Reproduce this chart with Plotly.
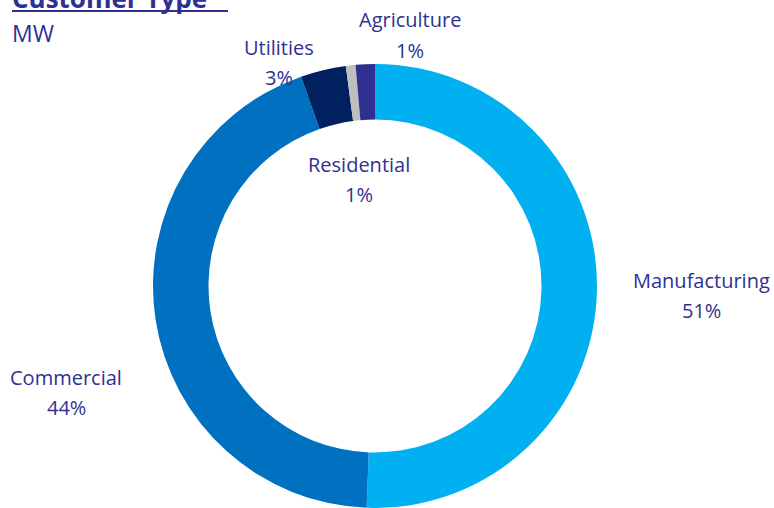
import plotly.graph_objects as go

categories = ["Manufacturing", "Commercial", "Utilities", "Residential", "Agriculture"]
values_mw = [50.6, 44.0, 3.3, 0.7, 1.4]
colors = ["#00B0F0", "#0070C0", "#002060", "#BFBFBF", "#2E3192"]

title_text = "Customer Type"
subtitle_text = "MW"

W, H = 774, 508
TXT = "#2E3192"
FONT = "Open Sans"
FS = 20

# label anchor positions (center x, baseline y in pixels) for name and percent
label_pos = {
    "Manufacturing": (701, 288, 318),
    "Commercial": (66, 385, 415),
    "Utilities": (279, 55, 85),
    "Residential": (359, 172, 202),
    "Agriculture": (410, 27, 58),
}

fig = go.Figure(go.Pie(
    labels=categories,
    values=values_mw,
    marker=dict(colors=colors, line=dict(width=0)),
    hole=0.75,
    sort=False,
    direction="clockwise",
    rotation=0,
    textinfo="none",
    hoverinfo="label+percent",
    domain=dict(x=[(375 - 222) / W, (375 + 222) / W], y=[0, 444 / H]),
    showlegend=False,
))

total = sum(values_mw)
ann = []
for cat, v in zip(categories, values_mw):
    cx, b1, b2 = label_pos[cat]
    pct = f"{round(v / total * 100):.0f}%"
    for txt, b in ((cat, b1), (pct, b2)):
        ann.append(dict(
            x=cx / W, y=1 - (b - 0.36 * FS) / H, xref="paper", yref="paper",
            xanchor="center", yanchor="middle", showarrow=False,
            text=txt, font=dict(family=FONT, size=FS, color=TXT),
        ))

ann.append(dict(x=10 / W, y=1 - (7 - 0.36 * 26) / H, xref="paper", yref="paper",
                xanchor="left", yanchor="middle", showarrow=False,
                text=f"<b>{title_text}</b>", font=dict(family=FONT, size=26, color=TXT)))
ann.append(dict(x=10 / W, y=1 - (41 - 0.36 * 23) / H, xref="paper", yref="paper",
                xanchor="left", yanchor="middle", showarrow=False,
                text=subtitle_text, font=dict(family=FONT, size=23, color=TXT)))

fig.update_layout(
    width=W, height=H,
    margin=dict(l=0, r=0, t=0, b=0),
    paper_bgcolor="white", plot_bgcolor="white",
    annotations=ann,
    shapes=[dict(type="line", xref="paper", yref="paper",
                 x0=12 / W, x1=228 / W, y0=1 - 11 / H, y1=1 - 11 / H,
                 line=dict(color=TXT, width=2))],
)

fig.write_html("out.html", config={"displayModeBar": False},
               post_script="document.body.style.margin='0';")
